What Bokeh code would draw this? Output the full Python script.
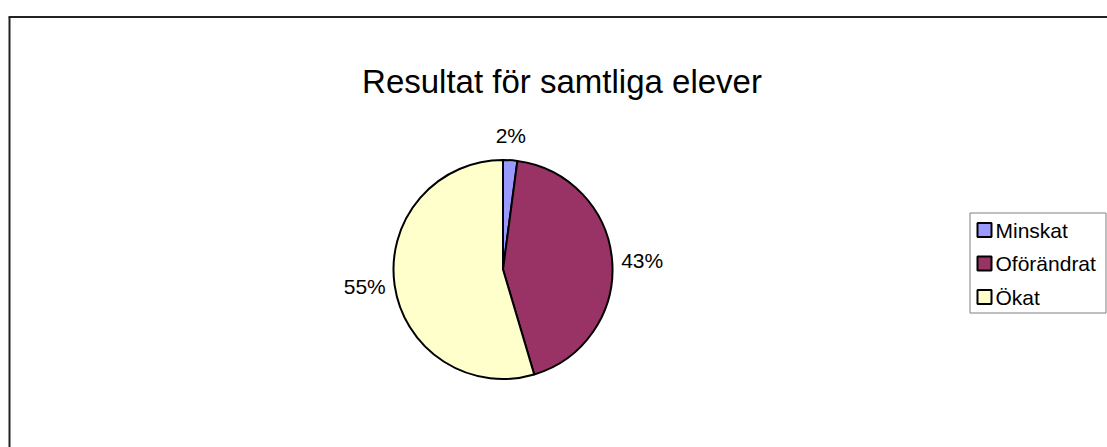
import math
from bokeh.plotting import figure
from bokeh.models import Range1d, ColumnDataSource
from bokeh.core.properties import value
from bokeh.embed import file_html
from bokeh.resources import INLINE

# ---- data ----
title_text = "Resultat för samtliga elever"
categories = ["Minskat", "Oförändrat", "Ökat"]
shares = [2.1, 43.3, 54.6]       # percent
labels = ["2%", "43%", "55%"]     # data labels as printed
colors = ["#9999FF", "#993366", "#FFFFCC"]

FONT = "Liberation Sans"
W, H = 1107, 447

p = figure(width=W, height=H, output_backend="svg", toolbar_location=None,
           x_range=Range1d(0, W), y_range=Range1d(0, H),
           x_axis_location=None, y_axis_location=None, min_border=0)
p.grid.visible = False
p.outline_line_color = None
p.background_fill_color = "white"
p.border_fill_color = "white"

# screenshot (px, py) -> data (px, H-py)
def X(px):
    return px
def Y(py):
    return H - py

# outer chart-area border (top + left, others beyond the window)
p.line([X(8), X(1107)], [Y(16.5), Y(16.5)], line_color="#222222", line_width=2)
p.line([X(9), X(9)], [Y(16.5), Y(447)], line_color="#222222", line_width=2)

# title
p.text(x=[X(561.5)], y=[Y(80.5)], text=[title_text], text_font=value(FONT),
       text_font_size="33px", text_align="center", text_baseline="middle",
       text_color="black")

# pie
cx, cy, R = X(502.5), Y(269), 109.5
total = float(sum(shares))
starts, ends, mids = [], [], []
cum = 0.0
for s in shares:
    f0 = cum / total
    cum += s
    f1 = cum / total
    starts.append(math.pi / 2 - 2 * math.pi * f0)
    ends.append(math.pi / 2 - 2 * math.pi * f1)
    mids.append((f0 + f1) / 2)

src = ColumnDataSource(dict(cat=categories, start=starts, end=ends, color=colors))
p.wedge(x=cx, y=cy, radius=R, start_angle="start", end_angle="end",
        direction="clock", fill_color="color", line_color="black",
        line_width=2, source=src)

# data labels outside the pie
lx, ly, la, lb = [], [], [], []
gap = 9
for m in mids:
    th = 2 * math.pi * m  # clockwise from top
    sx, sy = math.sin(th), math.cos(th)
    r = R + gap
    x = cx + r * sx
    y = cy + r * sy
    if sx > 0.4:
        a, b = "left", "middle"
    elif sx < -0.4:
        a, b = "right", "middle"
    else:
        a, b = "center", ("bottom" if sy > 0 else "top")
        y += 4 if sy > 0 else -4
    lx.append(x); ly.append(y); la.append(a); lb.append(b)
p.text(x=lx, y=ly, text=labels, text_align=la, text_baseline=lb,
       text_font=value(FONT), text_font_size="21px", text_color="black")

# legend (drawn manually to match the Excel layout)
lg_left, lg_top, lg_right, lg_bottom = X(969.5), Y(212.5), X(1105.5), Y(312.5)
p.quad(left=[lg_left], right=[lg_right], bottom=[lg_bottom], top=[lg_top],
       fill_color="white", line_color="#808080", line_width=1)
row_y = [Y(229.5), Y(263), Y(296.5)]
p.rect(x=[X(984)] * len(categories), y=row_y, width=14, height=14,
       fill_color=colors, line_color="black", line_width=2)
p.text(x=[X(995)] * len(categories), y=row_y, text=categories,
       text_align="left", text_baseline="middle", text_font=value(FONT),
       text_font_size="21px", text_color="black")

open("out.html", "w").write(file_html(p, INLINE))
